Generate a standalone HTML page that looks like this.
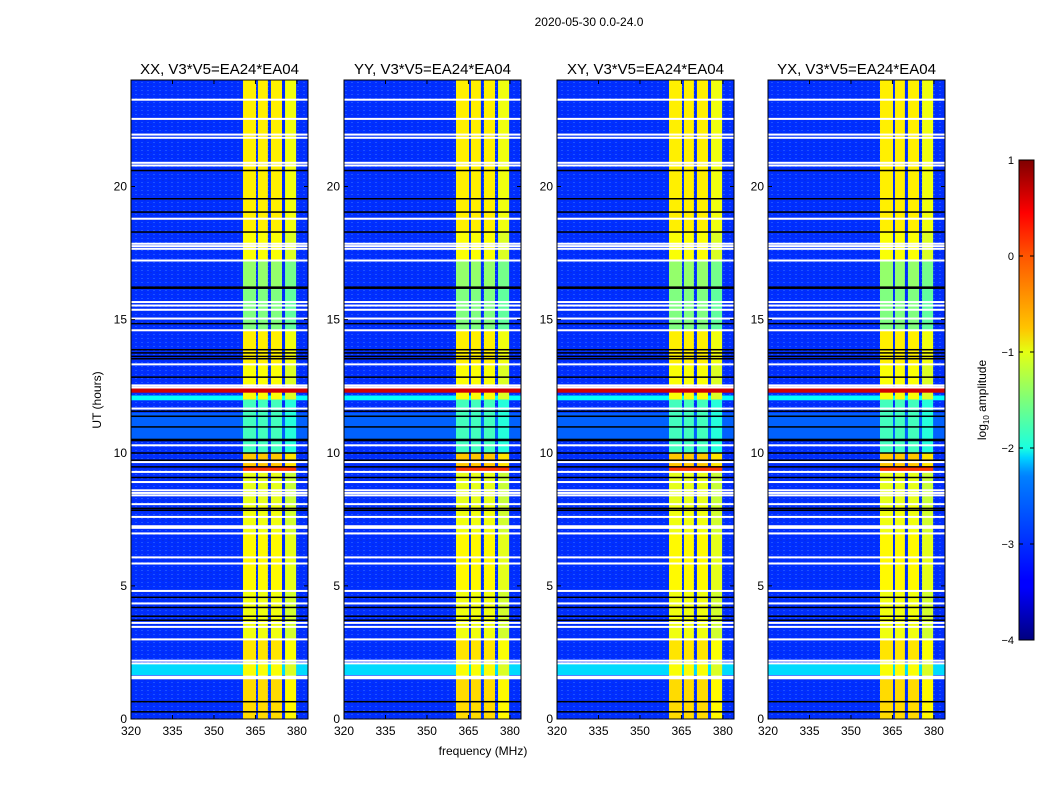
<!DOCTYPE html>
<html><head><meta charset="utf-8"><style>
body{margin:0;background:#fff;}
svg{display:block;font-family:"Liberation Sans",sans-serif;}
</style></head><body>
<svg id="chart" width="1050" height="800">
<defs>
<linearGradient id="jetgrad" x1="0" y1="1" x2="0" y2="0">
<stop offset="0" stop-color="#00007f"/><stop offset="0.11" stop-color="#0000ff"/><stop offset="0.125" stop-color="#0000ff"/>
<stop offset="0.34" stop-color="#0080ff"/><stop offset="0.35" stop-color="#0090ff"/><stop offset="0.38" stop-color="#00d4ff"/>
<stop offset="0.4" stop-color="#1affe0"/><stop offset="0.5" stop-color="#7dff7a"/><stop offset="0.6" stop-color="#e4ff13"/>
<stop offset="0.65" stop-color="#ffc400"/><stop offset="0.8" stop-color="#ff5500"/><stop offset="0.89" stop-color="#ff0000"/><stop offset="1" stop-color="#7f0000"/>
</linearGradient>
<pattern id="speckle" width="6" height="4" patternUnits="userSpaceOnUse">
<rect x="0" y="0" width="2" height="1" fill="#0a2ad8" opacity="0.5"/><rect x="3" y="2" width="2" height="1" fill="#3a78ff" opacity="0.5"/>
</pattern>
</defs>
<text x="589" y="26" font-size="12" text-anchor="middle">2020-05-30 0.0-24.0</text>
<text x="483" y="755" font-size="12" text-anchor="middle">frequency (MHz)</text>
<text x="0" y="0" font-size="12" text-anchor="middle" transform="translate(101,400) rotate(-90)">UT (hours)</text>
<g id="panels"></g>
<g id="cbar"></g>
</svg>
<script>
// ---- data ----
const panelTitles = ["XX, V3*V5=EA24*EA04","YY, V3*V5=EA24*EA04","XY, V3*V5=EA24*EA04","YX, V3*V5=EA24*EA04"];
const bandStartMHz = [360.5, 365.9, 370.6, 375.7];
const bandEndMHz   = [365.2, 369.5, 374.6, 379.7];
const segStartHr = [0,1.5,2.2,3,4.8,7,8,9.3,10,12,12.5,13.3,14.6,16.2,17.2,18.3,22.5];
const segEndHr   = [1.5,2.2,3,4.8,7,8,9.3,10,12,12.5,13.3,14.6,16.2,17.2,18.3,22.5,24];
const segLevel   = [-0.7,-0.9,-0.75,-0.95,-0.85,-0.95,-1.0,-0.6,-1.8,-0.9,-0.9,-0.8,-1.5,-1.4,-0.9,-0.8,-0.8];
const backgroundLevel = -3.15;
const flagWhiteHr = [23.26,22.54,21.95,21.83,20.89,20.79,18.79,17.85,17.76,17.66,17.22,15.66,15.53,15.37,15.04,14.6,13.32,12.53,12.45,
  11.66,10.28,9.65,9.28,8.9,8.59,8.49,8.4,8.07,7.59,7.24,7.18,6.97,6.07,5.84,4.81,4.34,3.61,3.46,2.99,2.19,2.09,1.59,1.53];
const flagBlackHr = [20.6,19.54,19.04,18.29,16.22,16.18,14.85,13.87,13.75,13.62,13.53,12.84,11.56,11.37,10.97,10.5,10.46,9.99,9.72,9.47,9.07,
  7.91,7.84,4.57,4.19,3.86,3.71,0.65,0.27];
const hotRowHr = [12.35, 9.4];
const hotRowLevel = [0.6, 0.1];
const lightBlockStart = [1.65, 11.97, 10.5];
const lightBlockEnd   = [2.1, 12.15, 11.5];
const lightBlockLevel = [-2.3, -2.1, -2.9];
const xTickVals = [320,335,350,365,380];
const yTickVals = [0,5,10,15,20];
const cbarTicks = [1,0,-1,-2,-3,-4];
const panelLeft = [131,344,557,768];

// ---- helpers ----
function jet(v){ // v in [-4,1]
  let t=(v+4)/5; t=Math.max(0,Math.min(1,t));
  function c(x){return Math.max(0,Math.min(1,x));}
  const r=c(1.5-Math.abs(4*t-3)), g=c(1.5-Math.abs(4*t-2)), b=c(1.5-Math.abs(4*t-1));
  return `rgb(${Math.round(r*255)},${Math.round(g*255)},${Math.round(b*255)})`;
}
const NS="http://www.w3.org/2000/svg";
function mk(tag,attrs,parent){const e=document.createElementNS(NS,tag);for(const k in attrs)e.setAttribute(k,attrs[k]);parent.appendChild(e);return e;}
const PW=177, TOP=80, BOT=719;
function yScale(h){return BOT-h*(BOT-TOP)/24;}
function xScaleFor(x0){return f=>x0+(f-320)*PW/64;}

const panels=document.getElementById('panels');
panelTitles.forEach((title,pi)=>{
  const x0=panelLeft[pi], xs=xScaleFor(x0);
  const g=mk('g',{},panels);
  
  
  const bg=mk('rect',{x:x0,y:TOP,width:PW,height:BOT-TOP,fill:jet(backgroundLevel)},g);
  
  
  mk('rect',{x:x0,y:TOP,width:PW,height:BOT-TOP,fill:'url(#speckle)'},g);
  lightBlockStart.forEach((s,i)=>{
    const r=mk('rect',{x:x0,y:yScale(lightBlockEnd[i]),width:PW,height:yScale(s)-yScale(lightBlockEnd[i]),fill:jet(lightBlockLevel[i])},g);
    
    
  });
  segStartHr.forEach((s,si)=>{
    bandStartMHz.forEach((b,bi)=>{
      const r=mk('rect',{x:xs(b),y:yScale(segEndHr[si]),width:xs(bandEndMHz[bi])-xs(b),height:yScale(s)-yScale(segEndHr[si]),fill:jet(segLevel[si]+(bi===3?-0.15:0))},g);
      
      
    });
  });
  hotRowHr.forEach((h,i)=>{
    const full=i===0;
    const r=mk('rect',{x:full?x0:xs(bandStartMHz[0]),y:yScale(h)-2.5,width:full?PW:xs(bandEndMHz[3])-xs(bandStartMHz[0]),height:5,fill:jet(hotRowLevel[i])},g);
    
    
  });
  flagWhiteHr.forEach(h=>{
    const r=mk('rect',{x:x0,y:yScale(h)-1,width:PW,height:2,fill:'#fff'},g);
    
    
  });
  flagBlackHr.forEach(h=>{
    const r=mk('rect',{x:x0,y:yScale(h)-0.75,width:PW,height:1.5,fill:'#000'},g);
    
    
  });
  const fr=mk('rect',{x:x0,y:TOP,width:PW,height:BOT-TOP,fill:'none',stroke:'#000','stroke-width':1},g);
  
  
  const t=mk('text',{x:x0+PW/2,y:TOP-6,'font-size':15,'text-anchor':'middle'},g);
  t.textContent=title;
  
  
  xTickVals.forEach(v=>{
    const x=xs(v);
    mk('line',{x1:x,x2:x,y1:BOT,y2:BOT-4,stroke:'#000'},g);
    mk('line',{x1:x,x2:x,y1:TOP,y2:TOP+4,stroke:'#000'},g);
    const l=mk('text',{x:x,y:BOT+16,'font-size':12,'text-anchor':'middle'},g);
    l.textContent=v;
    
    
  });
  yTickVals.forEach(v=>{
    const y=yScale(v);
    mk('line',{x1:x0,x2:x0+4,y1:y,y2:y,stroke:'#000'},g);
    mk('line',{x1:x0+PW,x2:x0+PW-4,y1:y,y2:y,stroke:'#000'},g);
    const l=mk('text',{x:x0-4,y:y+4,'font-size':12,'text-anchor':'end'},g);
    l.textContent=v;
    
    
  });
});

// colorbar
const cb=document.getElementById('cbar');


const CT=160, CB=640, CX=1019, CW=15;
mk('rect',{x:CX,y:CT,width:CW,height:CB-CT,fill:'url(#jetgrad)',stroke:'#000'},cb);
cbarTicks.forEach(v=>{
  const y=CB-(v+4)/5*(CB-CT);
  mk('line',{x1:CX,x2:CX+4,y1:y,y2:y,stroke:'#000'},cb);
  mk('line',{x1:CX+CW,x2:CX+CW-4,y1:y,y2:y,stroke:'#000'},cb);
  const l=mk('text',{x:CX-5,y:y+4,'font-size':11,'text-anchor':'end'},cb);
  l.textContent=v<0?'\u2212'+(-v):String(v);
  
  
});
const cl=mk('text',{transform:'translate(986,400) rotate(-90)','font-size':12,'text-anchor':'middle'},cb);
cl.innerHTML='log<tspan font-size="8" dy="3">10</tspan><tspan dy="-3"> amplitude</tspan>';


</script>
</body></html>
